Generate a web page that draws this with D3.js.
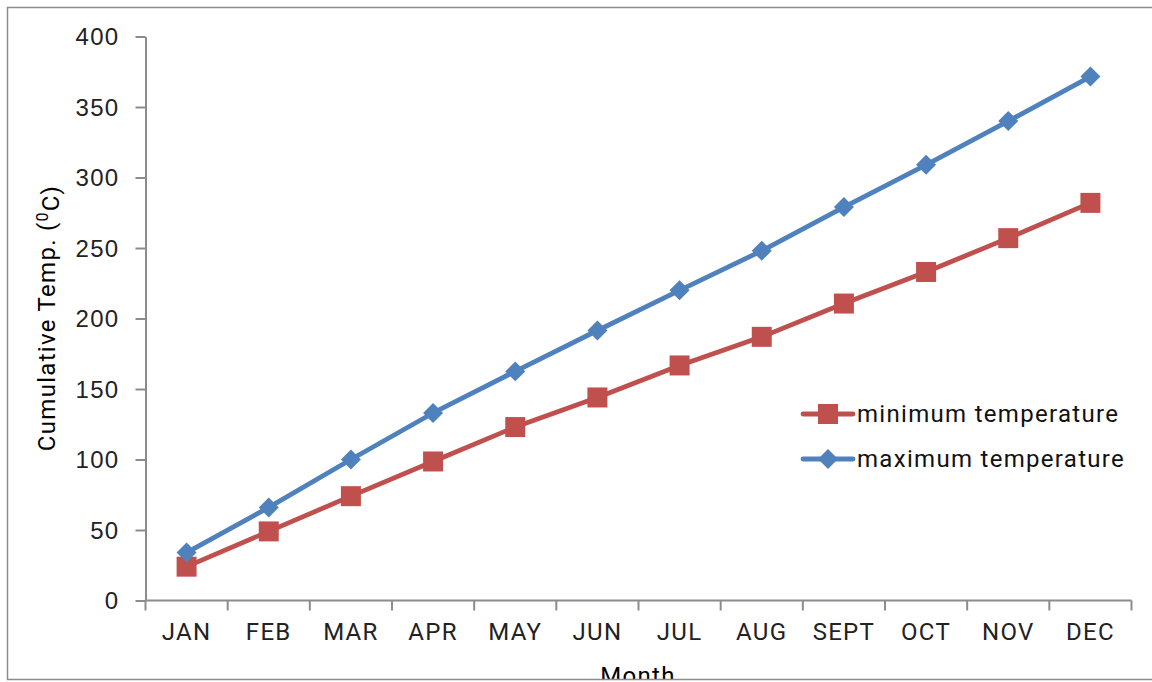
<!DOCTYPE html>
<html>
<head>
<meta charset="utf-8">
<script src="https://cdn.jsdelivr.net/npm/d3@7"></script>
<style>
  html, body { margin: 0; padding: 0; background: #fff; }
  svg { display: block; font-family: Roboto, "Noto Sans", sans-serif; }
  text { letter-spacing: 1.3px; }
</style>
</head>
<body>
<svg id="chart" width="1152" height="682"></svg>
<script>
// Monthly cumulative temperature (°C)
const months = ["JAN", "FEB", "MAR", "APR", "MAY", "JUN", "JUL", "AUG", "SEPT", "OCT", "NOV", "DEC"];
const minTemp = [24, 49, 74, 98.6, 123, 144, 166.7, 187, 210.6, 233, 257, 282];
const maxTemp = [34, 66, 100, 133, 162.5, 191.5, 220, 248, 279, 309, 340, 371.6];
const yTicks = [0, 50, 100, 150, 200, 250, 300, 350, 400];

const seriesList = [
  { name: "minimum temperature", values: minTemp, color: "#C0504D", marker: "square" },
  { name: "maximum temperature", values: maxTemp, color: "#4F81BD", marker: "diamond" }
];

const svg = d3.select("#chart");
const W = 1152, H = 682;
const plot = { left: 145.5, right: 1131.5, top: 36.5, bottom: 600.5 };

// Outer frame; content below the frame's bottom edge is clipped
svg.append("defs").append("clipPath").attr("id", "frameClip")
  .append("rect").attr("x", 7).attr("y", 7).attr("width", W).attr("height", 672);

const root = svg.append("g").attr("clip-path", "url(#frameClip)");

svg.append("path")
  .attr("d", `M${W + 2},7.5 H7.5 V679.5 H${W + 2}`)
  .attr("fill", "none").attr("stroke", "#8c8c8c").attr("stroke-width", 1.5);

const x = d3.scaleBand().domain(months).range([plot.left, plot.right]);
const y = d3.scaleLinear().domain([0, 400]).range([plot.bottom, plot.top]);

const axisColor = "#8c8c8c";
const textColor = "#222";

// Y axis
const yAxis = root.append("g").attr("transform", `translate(${plot.left},0)`)
  .call(d3.axisLeft(y).tickValues(yTicks).tickSize(10).tickPadding(16).tickSizeOuter(0));
yAxis.select(".domain").attr("stroke", axisColor).attr("stroke-width", 2);
yAxis.selectAll(".tick line").attr("stroke", axisColor).attr("stroke-width", 2);
yAxis.selectAll(".tick text").attr("fill", textColor).style("font-size", "24px")
  .attr("dy", "0.35em");

// X axis with ticks at category boundaries
const xAxisG = root.append("g").attr("transform", `translate(0,${plot.bottom})`);
xAxisG.append("line")
  .attr("x1", plot.left).attr("x2", plot.right)
  .attr("stroke", axisColor).attr("stroke-width", 2);
const boundaries = months.map(m => x(m)).concat([plot.right]);
xAxisG.selectAll("line.tick").data(boundaries).join("line")
  .attr("class", "tick")
  .attr("x1", d => d).attr("x2", d => d)
  .attr("y1", 0).attr("y2", 10)
  .attr("stroke", axisColor).attr("stroke-width", 2);
xAxisG.selectAll("text").data(months).join("text")
  .attr("x", d => x(d) + x.bandwidth() / 2)
  .attr("y", 39)
  .attr("text-anchor", "middle")
  .attr("fill", textColor)
  .style("font-size", "24px")
  .text(d => d);

// Axis titles
const yTitle = root.append("text")
  .attr("transform", `translate(55,318) rotate(-90)`)
  .attr("text-anchor", "middle")
  .attr("fill", "#000")
  .style("font-size", "24px");
yTitle.append("tspan").text("Cumulative Temp. (");
yTitle.append("tspan").attr("dy", "-0.45em").style("font-size", "16px").text("0");
yTitle.append("tspan").attr("dy", "0.45em").text("C)");

root.append("text")
  .attr("x", 638).attr("y", 684)
  .attr("text-anchor", "middle")
  .attr("fill", "#000")
  .style("font-size", "24px")
  .text("Month");

// Lines and markers
const line = d3.line()
  .x((d, i) => x(months[i]) + x.bandwidth() / 2)
  .y(d => y(d));

const squareSym = d3.symbol().type(d3.symbolSquare).size(400);
const diamondSym = d3.symbol().type(d3.symbolSquare).size(200);

seriesList.forEach(s => {
  const g = root.append("g");
  g.append("path")
    .datum(s.values)
    .attr("d", line)
    .attr("fill", "none")
    .attr("stroke", s.color)
    .attr("stroke-width", 4.8)
    .attr("stroke-linejoin", "round");
  g.selectAll("path.mk").data(s.values).join("path")
    .attr("class", "mk")
    .attr("d", s.marker === "square" ? squareSym : diamondSym)
    .attr("transform", (d, i) => {
      const cx = x(months[i]) + x.bandwidth() / 2;
      return s.marker === "square"
        ? `translate(${cx},${y(d)})`
        : `translate(${cx},${y(d)}) rotate(45)`;
    })
    .attr("fill", s.color);
});

// Legend
const legend = root.append("g").attr("transform", "translate(803,414)");
seriesList.forEach((s, i) => {
  const row = legend.append("g").attr("transform", `translate(0,${i * 45})`);
  row.append("line").attr("x1", 0).attr("x2", 50)
    .attr("stroke", s.color).attr("stroke-width", 4.8).attr("stroke-linecap", "round");
  row.append("path")
    .attr("d", s.marker === "square" ? squareSym : diamondSym)
    .attr("transform", s.marker === "square" ? "translate(25,0)" : "translate(25,0) rotate(45)")
    .attr("fill", s.color);
  row.append("text")
    .attr("x", 54).attr("y", 0).attr("dy", "0.35em")
    .attr("fill", "#111")
    .style("font-size", "24px")
    .text(s.name);
});
</script>
</body>
</html>
